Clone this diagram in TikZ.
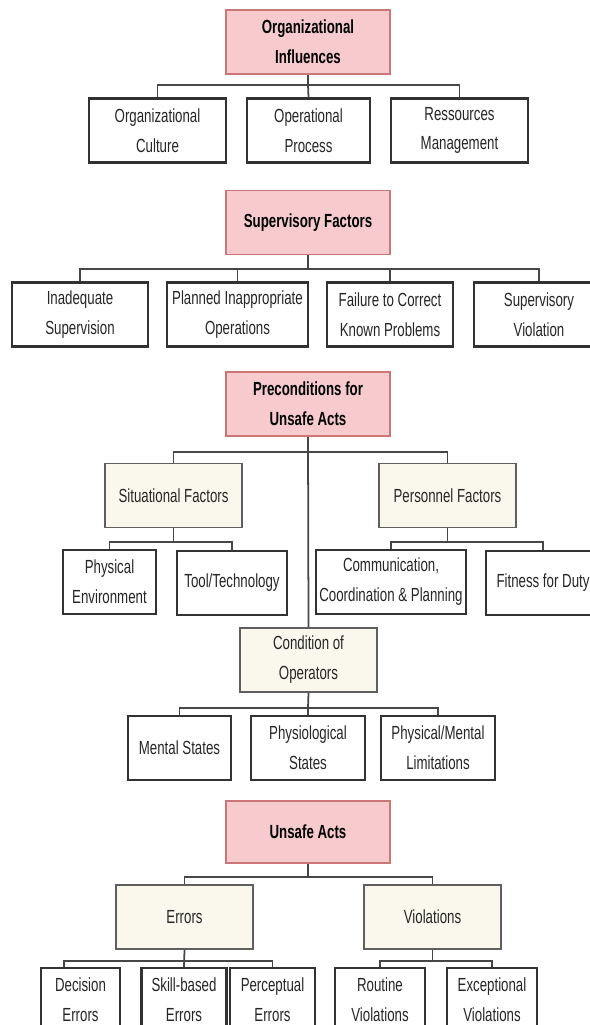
\documentclass[tikz,border=0pt]{standalone}
\usepackage{fontspec}
\setmainfont[FakeStretch=0.70]{Liberation Sans}
\usepackage{tikz}
\usetikzlibrary{positioning,calc}

\definecolor{pinkfill}{RGB}{247,203,205}
\definecolor{pinkline}{RGB}{205,118,120}
\definecolor{creamfill}{RGB}{250,248,236}
\definecolor{creamline}{RGB}{95,95,95}
\definecolor{leafline}{RGB}{50,50,50}
\definecolor{linkcol}{RGB}{70,70,70}

\begin{document}
\begin{tikzpicture}[
    x=0.02cm, y=-0.02cm,
    every node/.style={font=\fontsize{10.8}{17}\selectfont, align=center},
    head/.style={draw=pinkline, fill=pinkfill, line width=1.1pt, minimum width=3.28cm, minimum height=1.28cm, font=\fontsize{10.8}{17}\selectfont\bfseries},
    group/.style={draw=creamline, fill=creamfill, line width=1pt, minimum width=2.74cm, minimum height=1.28cm, text=black!85},
    leaf/.style={draw=leafline, fill=white, line width=1.2pt, minimum width=#1, minimum height=1.28cm, inner xsep=1pt, text=black!85},
    link/.style={draw=linkcol, line width=1pt},
]
\useasboundingbox (0,0) rectangle (590,1025);
\clip (0,0) rectangle (590,1025);

% Organizational Influences
\node[head] (oi) at (308,42) {Organizational\\Influences};
\node[leaf=2.74cm] (oc) at (157.5,130.5) {Organizational\\Culture};
\node[leaf=2.46cm] (op) at (308.5,130.5) {Operational\\Process};
\node[leaf=2.74cm] (rm) at (459.5,130.5) {Ressources\\Management};

% Supervisory Factors
\node[head] (sf) at (308,222.5) {Supervisory Factors};
\node[leaf=2.72cm] (is) at (80,314.5) {Inadequate\\Supervision};
\node[leaf=2.82cm] (pio) at (237.5,314.5) {Planned Inappropriate\\Operations};
\node[leaf=2.52cm] (fc) at (390,314.5) {Failure to Correct\\Known Problems};
\node[leaf=2.60cm] (sv) at (539,314.5) {Supervisory\\Violation};

% Preconditions for Unsafe Acts
\node[head] (pua) at (308,404) {Preconditions for\\Unsafe Acts};
\node[group] (sit) at (173.5,495.5) {Situational Factors};
\node[group] (per) at (447.5,495.5) {Personnel Factors};
\node[leaf=1.86cm] (pe) at (109.5,582) {Physical\\Environment};
\node[leaf=2.20cm] (tt) at (232,583) {Tool/Technology};
\node[leaf=3.00cm] (com) at (391,582) {Communication,\\Coordination \& Planning};
\node[leaf=2.28cm] (ffd) at (543,583) {Fitness for Duty};
\node[group] (cond) at (308.5,660) {Condition of\\Operators};
\node[leaf=2.06cm] (ms) at (179.5,748) {Mental States};
\node[leaf=2.28cm] (phs) at (308,748) {Physiological\\States};
\node[leaf=2.28cm] (pml) at (438,748) {Physical/Mental\\Limitations};

% Unsafe Acts
\node[head, minimum height=1.24cm] (ua) at (308,832) {Unsafe Acts};
\node[group] (err) at (184.5,917) {Errors};
\node[group] (vio) at (432.5,917) {Violations};
\node[leaf=1.58cm] (dec) at (80.5,1000) {Decision\\Errors};
\node[leaf=1.70cm] (sbe) at (184,1000) {Skill-based\\Errors};
\node[leaf=1.70cm] (pce) at (272.5,1000) {Perceptual\\Errors};
\node[leaf=1.80cm] (rv) at (380,1000) {Routine\\Violations};
\node[leaf=1.80cm] (ev) at (492,1000) {Exceptional\\Violations};

% Tree links
\coordinate (b1) at (308,85);
\draw[link] (oi.south) -- (b1);
\draw[link] (oc.north) |- (b1) -| (rm.north);
\draw[link] (op.north) -- (b1);

\coordinate (b2) at (308,269);
\draw[link] (sf.south) -- (b2);
\draw[link] (is.north) |- (b2) -| (sv.north);
\draw[link] (pio.north) |- (b2);
\draw[link] (fc.north) |- (b2);

\coordinate (b3) at (308,452);
\draw[link] (pua.south) -- (cond.north);
\draw[link] (sit.north) |- (b3) -| (per.north);

\coordinate (b4) at (173.5,542);
\draw[link] (sit.south) -- (b4);
\draw[link] (pe.north) |- (b4) -| (tt.north);

\coordinate (b5) at (447.5,542);
\draw[link] (per.south) -- (b5);
\draw[link] (com.north) |- (b5) -| (ffd.north);

\coordinate (b6) at (308,708);
\draw[link] (cond.south) -- (b6);
\draw[link] (ms.north) |- (b6) -| (pml.north);
\draw[link] (phs.north) -- (b6);

\coordinate (b7) at (308,877);
\draw[link] (ua.south) -- (b7);
\draw[link] (err.north) |- (b7) -| (vio.north);

\coordinate (b8) at (184.5,961);
\coordinate (dtop) at ($(dec.north west)+(24,0)$);
\draw[link] (err.south) -- (sbe.north);
\draw[link] (dtop) |- (b8) -| (pce.north);

\coordinate (b9) at (432.5,961);
\draw[link] (vio.south) -- (b9);
\draw[link] (rv.north) |- (b9) -| (ev.north);
\end{tikzpicture}
\end{document}
